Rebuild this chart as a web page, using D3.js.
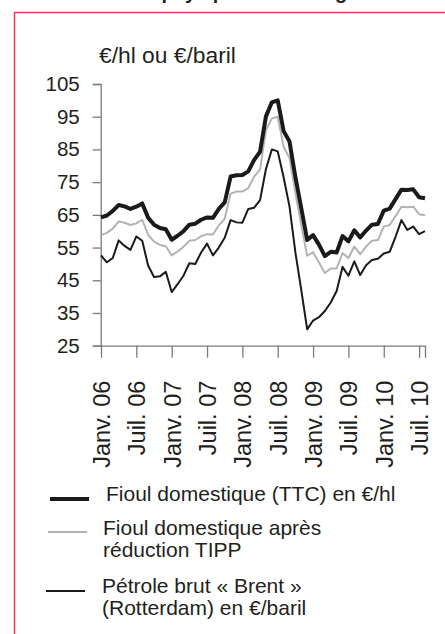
<!DOCTYPE html>
<html>
<head>
<meta charset="utf-8">
<script src="https://cdn.jsdelivr.net/npm/d3@7"></script>
<style>
  body { margin: 0; background: #fff; }
  svg { display: block; font-family: "Liberation Sans", Arial, sans-serif; }
</style>
</head>
<body>
<svg id="chart" width="445" height="634"></svg>
<script>
// Monthly series, Jan 2006 -> Aug 2010
var months = [];
for (var y = 2006; y <= 2010; y++) {
    for (var m = 1; m <= 12; m++) {
        if (y === 2010 && m > 8) break;
        months.push(y + "-" + (m < 10 ? "0" + m : m));
    }
}

var fioulTTC = [64.2, 64.8, 66.2, 68.0, 67.6, 66.8, 67.5, 68.5, 64.1, 62.0, 61.0, 60.6,
    57.4, 58.6, 60.0, 62.0, 62.3, 63.5, 64.2, 64.1, 66.8, 68.8, 76.7, 77.1,
    77.2, 78.3, 81.8, 84.3, 95.1, 99.4, 100.0, 90.6, 87.4, 76.5, 67.0, 57.3,
    58.8, 55.9, 52.4, 53.7, 53.5, 58.5, 56.9, 60.3, 58.1, 60.2, 62.0, 62.2,
    66.3, 66.9, 69.8, 72.7, 72.6, 72.8, 70.4, 70.1];

var fioulTIPP = [58.8, 59.5, 60.8, 63.0, 62.6, 61.9, 62.4, 63.5, 58.9, 56.8, 55.8, 55.4,
    52.6, 53.8, 55.2, 57.1, 57.3, 58.5, 59.1, 59.0, 61.8, 63.8, 71.5, 72.1,
    72.1, 73.2, 76.7, 78.9, 90.9, 94.5, 95.0, 85.8, 82.4, 71.8, 61.8, 52.5,
    53.6, 50.4, 47.2, 48.6, 48.6, 53.3, 51.8, 55.3, 53.0, 55.3, 57.1, 57.3,
    61.4, 61.9, 64.6, 67.5, 67.3, 67.5, 65.2, 64.9];

var brent = [52.6, 50.5, 51.8, 57.2, 55.5, 54.3, 58.4, 57.1, 49.5, 46.0, 46.2, 47.6,
    41.4, 43.8, 46.4, 50.2, 50.0, 53.5, 56.2, 52.6, 55.0, 58.0, 63.4, 62.7,
    62.6, 66.8, 67.2, 69.5, 79.0, 85.0, 84.4, 76.5, 67.5, 53.5, 42.0, 30.0,
    32.7, 33.7, 35.6, 38.2, 41.7, 49.1, 46.4, 50.8, 46.6, 49.6, 51.2, 51.6,
    53.2, 53.7, 58.3, 63.4, 60.4, 61.4, 59.1, 60.0];

var yTicks = [25, 35, 45, 55, 65, 75, 85, 95, 105];
var xTickMonths = ["2006-01", "2006-07", "2007-01", "2007-07", "2008-01", "2008-07",
    "2009-01", "2009-07", "2010-01", "2010-07"];
var xTickLabels = ["Janv. 06", "Juil. 06", "Janv. 07", "Juil. 07", "Janv. 08", "Juil. 08",
    "Janv. 09", "Juil. 09", "Janv. 10", "Juil. 10"];

var legendNames = [
    ["Fioul domestique (TTC) en \u20ac/hl"],
    ["Fioul domestique apr\u00e8s", "r\u00e9duction TIPP"],
    ["P\u00e9trole brut \u00ab Brent \u00bb", "(Rotterdam) en \u20ac/baril"]
];

var svg = d3.select("#chart");
var textColor = "#231f20";
var axisColor = "#7a7a7a";

// frame
svg.append("path")
    .attr("d", "M14.5,634V12.5H445")
    .attr("fill", "none")
    .attr("stroke", "#e83a5c")
    .attr("stroke-width", 1.5);

// cut-off title at the very top
svg.append("text")
    .attr("x", 205)
    .attr("y", -1)
    .attr("text-anchor", "middle")
    .style("font-size", "20px")
    .style("font-weight", "bold")
    .attr("fill", textColor)
    .text("Prix du fioul pay\u00e9 par les m\u00e9nages");

var xScale = d3.scalePoint().domain(months).range([101, 425]);
var yScale = d3.scaleLinear().domain([25, 105]).range([345.7, 84]);

// unit label
svg.append("text")
    .attr("x", 99)
    .attr("y", 63)
    .style("font-size", "22.8px")
    .attr("fill", textColor)
    .text("\u20ac/hl ou \u20ac/baril");

// y axis
var yAxis = svg.append("g")
    .attr("transform", "translate(100.7,0)")
    .call(d3.axisLeft(yScale).tickValues(yTicks).tickSize(8).tickPadding(13).tickFormat(d3.format("d")));
yAxis.select(".domain").attr("stroke", axisColor).attr("stroke-width", 1.3);
yAxis.selectAll(".tick line").attr("stroke", axisColor).attr("stroke-width", 1.3);
yAxis.selectAll(".tick text")
    .attr("fill", textColor)
    .style("font-size", "20.5px")
    .style("font-family", "Liberation Sans, Arial, sans-serif");

// x axis
var xAxis = svg.append("g")
    .attr("transform", "translate(0,345.7)")
    .call(d3.axisBottom(xScale)
        .tickValues(xTickMonths.concat([months[months.length - 1]]))
        .tickSize(12)
        .tickSizeOuter(0)
        .tickFormat(function (d) {
            var i = xTickMonths.indexOf(d);
            return i >= 0 ? xTickLabels[i] : "";
        }));
xAxis.select(".domain").attr("stroke", axisColor).attr("stroke-width", 1.3);
xAxis.selectAll(".tick line").attr("stroke", axisColor).attr("stroke-width", 1.3);
xAxis.selectAll(".tick text")
    .attr("fill", textColor)
    .style("font-size", "23.5px")
    .style("font-family", "Liberation Sans, Arial, sans-serif")
    .attr("text-anchor", "end")
    .attr("transform", "rotate(-90)")
    .attr("x", -35)
    .attr("y", 0)
    .attr("dy", "0.36em");

// lines
var series = [
    { values: brent, color: "#1a1a1a", width: 2 },
    { values: fioulTIPP, color: "#b3b3b3", width: 2 },
    { values: fioulTTC, color: "#1a1a1a", width: 4 }
];

var line = d3.line()
    .x(function (d, i) { return xScale(months[i]); })
    .y(function (d) { return yScale(d); });

svg.selectAll(".series")
    .data(series)
    .enter()
    .append("path")
    .attr("class", "series")
    .attr("fill", "none")
    .attr("stroke", function (d) { return d.color; })
    .attr("stroke-width", function (d) { return d.width; })
    .attr("stroke-linejoin", "round")
    .attr("d", function (d) { return line(d.values); });

// legend
var legendStyle = [
    { color: "#1a1a1a", width: 4, y: 499, x: 50, tx: 106, ty: 501 },
    { color: "#b3b3b3", width: 2, y: 532, x: 48, tx: 103, ty: 535 },
    { color: "#1a1a1a", width: 2, y: 591, x: 46, tx: 102, ty: 593 }
];

var legend = svg.selectAll(".legend")
    .data(legendNames)
    .enter()
    .append("g")
    .attr("class", "legend");

legend.append("line")
    .attr("x1", function (d, i) { return legendStyle[i].x; })
    .attr("x2", function (d, i) { return legendStyle[i].x + 39; })
    .attr("y1", function (d, i) { return legendStyle[i].y; })
    .attr("y2", function (d, i) { return legendStyle[i].y; })
    .attr("stroke", function (d, i) { return legendStyle[i].color; })
    .attr("stroke-width", function (d, i) { return legendStyle[i].width; });

// each legend line is its own text element
legend.each(function (d, i) {
    var g = d3.select(this);
    d.forEach(function (s, j) {
        g.append("text")
            .attr("x", legendStyle[i].tx)
            .attr("y", legendStyle[i].ty + j * 21.5)
            .style("font-size", "21px")
            .attr("fill", textColor)
            .text(s);
    });
});
</script>
</body>
</html>
